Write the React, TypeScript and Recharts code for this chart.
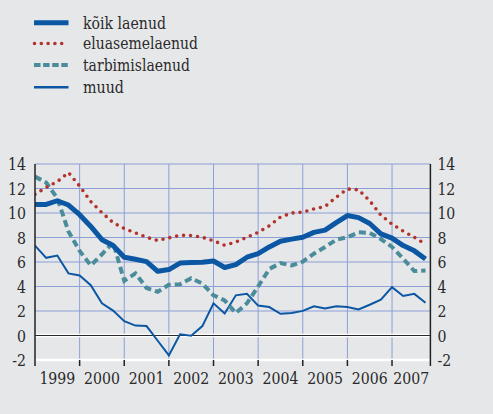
import React from "react";
import { LineChart, Line, XAxis, YAxis, CartesianGrid, ReferenceLine, Legend } from "recharts";

const quarters = [
  1999.0, 1999.25, 1999.5, 1999.75, 2000.0, 2000.25, 2000.5, 2000.75,
  2001.0, 2001.25, 2001.5, 2001.75, 2002.0, 2002.25, 2002.5, 2002.75,
  2003.0, 2003.25, 2003.5, 2003.75, 2004.0, 2004.25, 2004.5, 2004.75,
  2005.0, 2005.25, 2005.5, 2005.75, 2006.0, 2006.25, 2006.5, 2006.75,
  2007.0, 2007.25, 2007.5, 2007.75,
];

const koikLaenud = [
  10.7, 10.7, 11.0, 10.65, 9.86, 8.9, 7.82, 7.34,
  6.39, 6.22, 6.03, 5.24, 5.38, 5.91, 5.96, 5.98,
  6.08, 5.55, 5.79, 6.39, 6.68, 7.23, 7.7, 7.87,
  8.02, 8.42, 8.6, 9.21, 9.79, 9.62, 9.14, 8.3,
  7.95, 7.34, 6.91, 6.25,
];

const eluasemelaenud = [
  11.53, 12.08, 12.56, 13.3, 12.2, 10.93, 10.03, 9.21,
  8.73, 8.38, 8.02, 7.75, 7.97, 8.18, 8.16, 8.02,
  7.73, 7.37, 7.63, 8.02, 8.42, 8.95, 9.67, 10.0,
  10.07, 10.34, 10.53, 11.29, 11.96, 11.89, 11.0, 9.83,
  9.09, 8.52, 8.02, 7.45,
];

const tarbimislaenud = [
  12.97, 12.49, 11.2, 8.5, 6.9, 5.72, 6.63, 7.59,
  4.47, 5.07, 3.88, 3.57, 4.14, 4.19, 4.67, 4.24,
  3.28, 2.87, 1.84, 2.63, 4.0, 5.43, 5.91, 5.72,
  6.03, 6.68, 7.23, 7.82, 8.02, 8.42, 8.38, 7.87,
  7.23, 6.27, 5.26, 5.31,
];

const muud = [
  7.34, 6.34, 6.53, 5.07, 4.9, 4.11, 2.63, 2.03,
  1.17, 0.81, 0.77, -0.43, -1.63, 0.1, -0.02, 0.77,
  2.63, 1.8, 3.28, 3.4, 2.44, 2.32, 1.77, 1.84,
  2.01, 2.39, 2.2, 2.39, 2.32, 2.13, 2.51, 2.92,
  3.95, 3.23, 3.4, 2.68,
];

const yearBoundaries = [1999, 2000, 2001, 2002, 2003, 2004, 2005, 2006, 2007, 2007.86];
const yearLabelPositions = [1999.5, 2000.5, 2001.5, 2002.5, 2003.5, 2004.5, 2005.5, 2006.5, 2007.43];
const yearLabels = ["1999", "2000", "2001", "2002", "2003", "2004", "2005", "2006", "2007"];
const yTicks = [-2, 0, 2, 4, 6, 8, 10, 12, 14];

const seriesNames = ["kõik laenud", "eluasemelaenud", "tarbimislaenud", "muud"];

const data = quarters.map((q, i) => ({
  q,
  koik: koikLaenud[i],
  elu: eluasemelaenud[i],
  tarb: tarbimislaenud[i],
  muud: muud[i],
}));

const BLUE = "#0b57a4";
const RED = "#b3322c";
const TEAL = "#4b8c9b";
const GRID = "#8c9fd6";
const BG = "#e6e7e9";
const TXT = "#2a2a2a";
const FONT = "DejaVu Serif";
const FS = 17;
const SX = 0.83;

const LegendContent = () => {
  const rows = [
    { name: seriesNames[0], stroke: BLUE, width: 5, dash: undefined, cap: "butt", len: 83 },
    { name: seriesNames[1], stroke: RED, width: 3.6, dash: "0 6.8", cap: "round", len: 115 },
    { name: seriesNames[2], stroke: TEAL, width: 4, dash: "6.5 2.6", cap: "butt", len: 107 },
    { name: seriesNames[3], stroke: BLUE, width: 2.4, dash: undefined, cap: "butt", len: 41 },
  ];
  const ys = [22.7, 43.5, 65, 87.3];
  return (
    <svg width={260} height={100} style={{ display: "block" }}>
      {rows.map((r, i) => (
        <g key={r.name}>
          <line
            x1={r.cap === "round" ? 34.5 : 34}
            x2={68.5}
            y1={ys[i]}
            y2={ys[i]}
            stroke={r.stroke}
            strokeWidth={r.width}
            strokeDasharray={r.dash}
            strokeLinecap={r.cap as any}
          />
          <text
            x={83}
            y={ys[i] + 5.8}
            fontSize={FS}
            fill={TXT}
            style={{ fontFamily: FONT }}
            textLength={r.len}
            lengthAdjust="spacingAndGlyphs"
          >
            {r.name}
          </text>
        </g>
      ))}
    </svg>
  );
};

const BoundaryTick = () => <g />;

const YTick = (props: any) => {
  const { x, y, payload, textAnchor } = props;
  return (
    <text
      transform={`translate(${x},${y}) scale(${SX},1)`}
      textAnchor={textAnchor}
      dy="0.36em"
      fontSize={FS}
      fill={TXT}
      style={{ fontFamily: FONT }}
    >
      {payload.value}
    </text>
  );
};

const XLabelTick = (props: any) => {
  const { x, y, payload } = props;
  const idx = yearLabelPositions.indexOf(payload.value);
  return (
    <text
      transform={`translate(${x},${y}) scale(${SX},1)`}
      textAnchor="middle"
      dy="0.71em"
      fontSize={FS}
      fill={TXT}
      style={{ fontFamily: FONT }}
    >
      {idx >= 0 ? yearLabels[idx] : ""}
    </text>
  );
};

export default function App() {
  return (
    <div style={{ position: "absolute", left: 0, top: 0, width: 493, height: 414, background: BG }}>
      <LineChart
        width={493}
        height={414}
        data={data}
        margin={{ top: 164, right: 31.3, bottom: 27, left: 0 }}
      >
        <CartesianGrid stroke={GRID} strokeWidth={1} horizontalValues={[2, 4, 6, 8, 10, 12, 14]} vertical={false} />
        {yearBoundaries.slice(1, 9).map((b) => (
          <ReferenceLine key={b} x={b} yAxisId={0} stroke={GRID} strokeWidth={1} />
        ))}
        <XAxis
          dataKey="q"
          type="number"
          domain={[1999, 2007.86]}
          ticks={yearBoundaries}
          height={1}
          tick={<BoundaryTick />}
          tickSize={6}
          interval={0}
          tickLine={{ stroke: "#222", strokeWidth: 1.5 }}
          axisLine={{ stroke: "#ffffff", strokeWidth: 2.5 }}
          allowDataOverflow
        />
        <XAxis
          xAxisId="lbl"
          dataKey="q"
          type="number"
          domain={[1999, 2007.86]}
          ticks={yearLabelPositions}
          height={26}
          tickLine={false}
          axisLine={false}
          tickSize={6}
          tickMargin={5}
          interval={0}
          tick={<XLabelTick />}
          allowDataOverflow
        />
        <YAxis
          yAxisId={0}
          domain={[-2, 14]}
          ticks={yTicks}
          width={35}
          tickSize={0}
          tickMargin={9}
          interval={0}
          axisLine={{ stroke: "#222", strokeWidth: 1.5 }}
          tick={<YTick />}
          allowDataOverflow
        />
        <YAxis
          yAxisId="r"
          orientation="right"
          domain={[-2, 14]}
          ticks={yTicks}
          width={31.3}
          tickSize={0}
          tickMargin={7}
          interval={0}
          axisLine={{ stroke: "#222", strokeWidth: 1.5 }}
          tick={<YTick />}
          allowDataOverflow
        />
        <ReferenceLine y={0} yAxisId={0} stroke="#ffffff" strokeWidth={3.5} />
        <ReferenceLine y={0} yAxisId={0} stroke="#2a2a2a" strokeWidth={1.2} />
        <Line dataKey="muud" name={seriesNames[3]} stroke={BLUE} strokeWidth={2} dot={false} isAnimationActive={false} />
        <Line dataKey="tarb" name={seriesNames[2]} stroke={TEAL} strokeWidth={4} strokeDasharray="7 4" dot={false} isAnimationActive={false} />
        <Line dataKey="elu" name={seriesNames[1]} stroke={RED} strokeWidth={3.6} strokeDasharray="0 7" strokeLinecap="round" dot={false} isAnimationActive={false} />
        <Line dataKey="koik" name={seriesNames[0]} stroke={BLUE} strokeWidth={5} strokeLinejoin="round" dot={false} isAnimationActive={false} />
        <Legend
          layout="vertical"
          verticalAlign="middle"
          align="center"
          content={<LegendContent />}
          wrapperStyle={{ top: 0, left: 0, width: 260, height: 100, margin: 0 }}
        />
      </LineChart>
    </div>
  );
}
